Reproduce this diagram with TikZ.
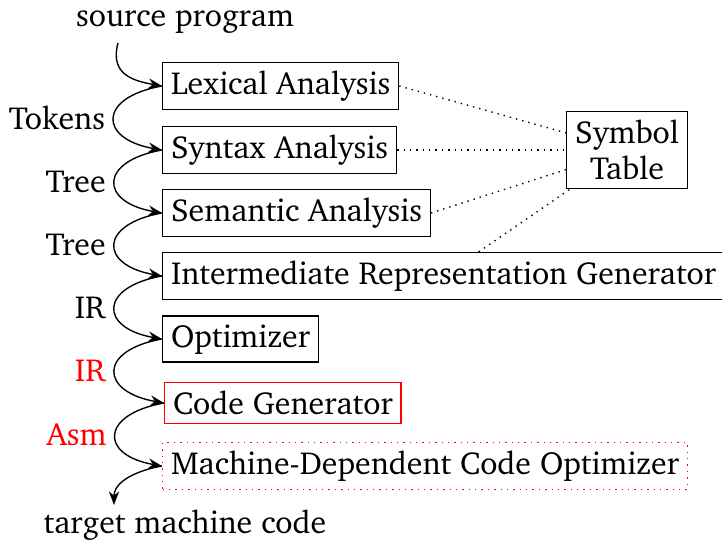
\documentclass[tikz,border=0pt]{standalone}
\usepackage[T1]{fontenc}
\usepackage{charter}
\usetikzlibrary{arrows.meta}

\begin{document}
\begin{tikzpicture}[x=0.4pt, y=0.4pt, font=\fontsize{12.75}{14.5}\selectfont,
    line width=0.55pt,
    phase/.style={draw, anchor=west},
    flow/.style={-{Stealth}, out=190, in=170, looseness=2.6},
    link/.style={dotted}]
  \useasboundingbox (0,0) rectangle (722,-542);

  \node (src) at (185,-22) {source program};
  \coordinate (srcout) at (118,-43);
  \node[phase] (lex) at (162,-86) {Lexical Analysis};
  \node[phase] (syn) at (162,-150) {Syntax Analysis};
  \node[phase] (sem) at (162,-213) {Semantic Analysis};
  \node[phase] (irg) at (162,-276) {Intermediate Representation Generator};
  \node[phase] (opt) at (162,-339) {Optimizer};
  \node[phase, red] (cg) at (164,-403) {\textcolor{black}{Code Generator}};
  \node[phase, red, dotted] (mdo) at (162,-466) {\textcolor{black}{Machine-Dependent Code Optimizer}};
  \coordinate (tgtin) at (114,-505);
  \node (tgt) at (185,-525) {target machine code};
  \node[draw, align=center] (sym) at (627,-150) {Symbol\\Table};

  \draw[flow, out=255, looseness=1.3] (srcout) to (lex.west);
  \draw[flow] (lex.west) to node[left] {Tokens} (syn.west);
  \draw[flow] (syn.west) to node[left] {Tree} (sem.west);
  \draw[flow] (sem.west) to node[left] {Tree} (irg.west);
  \draw[flow] (irg.west) to node[left] {IR} (opt.west);
  \draw[flow] (opt.west) to node[left, red] {IR} (cg.west);
  \draw[flow] (cg.west) to node[left, red] {Asm} (mdo.west);
  \draw[flow, in=90, looseness=1] (mdo.west) to (tgtin);

  \draw[link] (lex.east) -- (sym);
  \draw[link] (syn.east) -- (sym);
  \draw[link] (sem.east) -- (sym);
  \draw[link] (irg) -- (sym);
\end{tikzpicture}
\end{document}
